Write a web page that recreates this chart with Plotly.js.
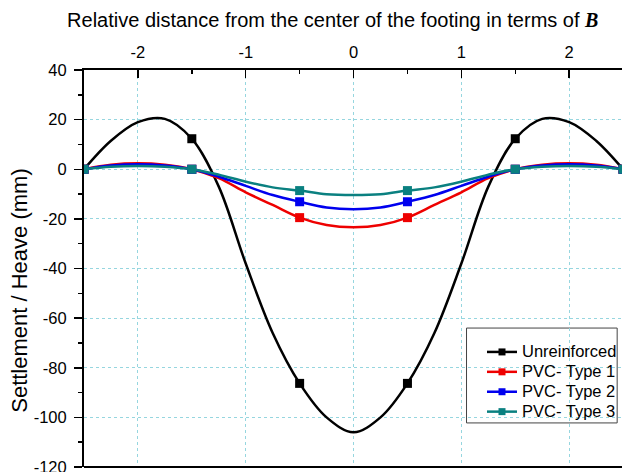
<!DOCTYPE html>
<html>
<head>
<meta charset="utf-8">
<script src="https://cdn.plot.ly/plotly-3.0.1.min.js"></script>
<style>
  html, body { margin: 0; padding: 0; background: #fff; overflow: hidden; }
  #chart { width: 622px; height: 472px; }
</style>
</head>
<body>
<div id="chart"></div>
<script>
// Relative distance from footing centre (in B) along the profile
const distance = [-2.5, -2.25, -2, -1.75, -1.5, -1.25, -1, -0.75, -0.5, -0.25, 0,
                  0.25, 0.5, 0.75, 1, 1.25, 1.5, 1.75, 2, 2.25, 2.5];

// Surface settlement (-) / heave (+) in mm
const unreinforced = [0, 11.5, 19, 20.3, 12.3, -7, -38, -66, -86.3, -100, -106,
                      -100, -86.3, -66, -38, -7, 12.3, 20.3, 19, 11.5, 0];
const pvcType1 = [0, 1.8, 2.4, 1.8, 0, -3.6, -9.3, -14.4, -19.5, -22.5, -23.4,
                  -22.5, -19.5, -14.4, -9.3, -3.6, 0, 1.8, 2.4, 1.8, 0];
const pvcType2 = [0, 1.5, 2.0, 1.5, 0, -3, -6.7, -10.4, -13.1, -15.4, -16.1,
                  -15.4, -13.1, -10.4, -6.7, -3, 0, 1.5, 2.0, 1.5, 0];
const pvcType3 = [0, 1.0, 1.3, 1.0, 0, -2.2, -5, -7.3, -8.6, -10.1, -10.4,
                  -10.1, -8.6, -7.3, -5, -2.2, 0, 1.0, 1.3, 1.0, 0];

// Measurement stations that carry a symbol
const stations = [-2.5, -1.5, -0.5, 0.5, 1.5, 2.5];

// Axis tick labels (plain hyphen minus)
const xTickVals = [-2, -1, 0, 1, 2];
const xTickText = ['-2', '-1', '0', '1', '2'];
const yTickVals = [-120, -100, -80, -60, -40, -20, 0, 20, 40];
const yTickText = ['-120', '-100', '-80', '-60', '-40', '-20', '0', '20', '40'];

const seriesNames = ['Unreinforced', 'PVC- Type 1', 'PVC- Type 2', 'PVC- Type 3'];
const seriesValues = [unreinforced, pvcType1, pvcType2, pvcType3];
const seriesColors = ['#000000', '#ee0000', '#0000ee', '#0a8080'];

const markerSizes = distance.map(d => stations.includes(d) ? 9 : 0);

const traces = [];
seriesValues.forEach((vals, i) => {
  traces.push({
    x: distance, y: vals, type: 'scatter', mode: 'lines+markers',
    name: seriesNames[i], legendgroup: seriesNames[i], showlegend: false,
    line: { color: seriesColors[i], width: 2.5, shape: 'spline', smoothing: 1 },
    marker: { symbol: 'square', size: markerSizes, color: seriesColors[i],
              opacity: 1, line: { width: 0 } },
    hoverinfo: 'skip'
  });
});
// legend entries (line + square symbol)
seriesValues.forEach((vals, i) => {
  traces.push({
    x: [null], y: [null], type: 'scatter', mode: 'lines+markers',
    name: '<span style="font-size:16.5px">' + seriesNames[i] + '</span>',
    legendgroup: seriesNames[i], showlegend: true,
    line: { color: seriesColors[i], width: 2.5 },
    marker: { symbol: 'square', size: 7, color: seriesColors[i], line: { width: 0 } }
  });
});

const fontFamily = 'Liberation Sans, Arial, sans-serif';
const tickFont = { family: fontFamily, size: 16.5, color: '#000' };
const gridColor = '#96d6df';

const layout = {
  width: 622, height: 472,
  margin: { l: 84, r: 0, t: 70, b: 5, pad: 0 },
  paper_bgcolor: '#fff', plot_bgcolor: '#fff',
  showlegend: true,
  title: {
    text: 'Relative distance from the center of the footing in terms of ' +
          '<span style="font-family:Liberation Serif, Times New Roman, serif"><b><i>B</i></b></span>',
    font: { family: fontFamily, size: 20, color: '#000' },
    xref: 'container', yref: 'container',
    x: 0.535, xanchor: 'center', y: 0.958, yanchor: 'middle'
  },
  xaxis: {
    side: 'top', range: [-2.5, 2.49],
    tickmode: 'array', tickvals: xTickVals, ticktext: xTickText,
    ticks: 'inside', ticklen: 8, tickwidth: 1.5, tickcolor: '#000',
    minor: { dtick: 0.5, tick0: 0, ticks: 'inside', ticklen: 4, tickwidth: 1.5, tickcolor: '#000', showgrid: false },
    showline: true, linecolor: '#000', linewidth: 2,
    showgrid: true, gridcolor: gridColor, griddash: 'dot', gridwidth: 1,
    zeroline: false, tickfont: tickFont, ticklabelstandoff: 3,
    fixedrange: true
  },
  yaxis: {
    range: [-120, 40],
    tickmode: 'array', tickvals: yTickVals, ticktext: yTickText,
    ticks: 'outside', ticklen: 8, tickwidth: 1.5, tickcolor: '#000',
    minor: { dtick: 10, tick0: 0, ticks: 'outside', ticklen: 4, tickwidth: 1.5, tickcolor: '#000', showgrid: false },
    showline: true, linecolor: '#000', linewidth: 2,
    showgrid: true, gridcolor: gridColor, griddash: 'dot', gridwidth: 1,
    zeroline: false, tickfont: tickFont, ticklabelstandoff: 4,
    ticklabeloverflow: 'allow',
    fixedrange: true
  },
  annotations: [{
    text: 'Settlement / Heave (mm)', textangle: -90,
    xref: 'paper', yref: 'paper', x: -0.12, y: 0.445,
    xanchor: 'center', yanchor: 'middle', showarrow: false,
    font: { family: fontFamily, size: 22, color: '#000' }
  }],
  legend: {
    x: 0.74, xanchor: 'left', y: 0.3275, yanchor: 'top',
    bgcolor: 'rgba(0,0,0,0)', borderwidth: 0, tracegroupgap: 0,
    font: { family: fontFamily, size: 13, color: '#000' }
  },
  shapes: [
    {
      // legend frame
      type: 'rect', xref: 'paper', yref: 'paper',
      x0: 0.711, x1: 0.991, y0: 0.111, y1: 0.350,
      line: { color: '#444', width: 1 }, fillcolor: '#fff', layer: 'below'
    },
    {
      // bottom frame line
      type: 'line', xref: 'paper', yref: 'paper',
      x0: 0, x1: 1, y0: 0, y1: 0,
      line: { color: '#000', width: 2 }, layer: 'above'
    }
  ]
};

Plotly.newPlot('chart', traces, layout, { staticPlot: true, displayModeBar: false });
</script>
</body>
</html>
